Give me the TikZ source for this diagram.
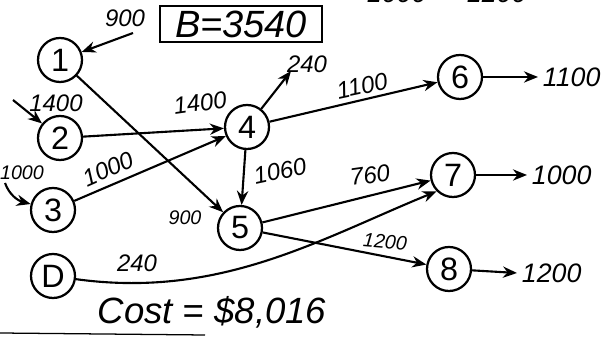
\documentclass[tikz,border=0pt]{standalone}
\usepackage{fontspec}
\setmainfont{Liberation Sans}
\usetikzlibrary{arrows.meta,positioning,calc}

\begin{document}
\begin{tikzpicture}[x=0.025cm, y=0.025cm,
  site/.style={draw, circle, line width=1.6pt, minimum size=1.1cm,
               inner sep=0pt, font=\fontsize{23}{25}\selectfont},
  qty/.style={font=\fontsize{17}{19}\selectfont\itshape},
  small/.style={font=\fontsize{14}{16}\selectfont\itshape},
  outqty/.style={font=\fontsize{19}{21}\selectfont\itshape, anchor=west},
  flow/.style={->, line width=1.5pt},
  >={Stealth[length=10pt,width=8pt]}
]
\useasboundingbox (0,0) rectangle (609,339);
\clip (0,0) rectangle (609,339);

% sites of the network
\node[site] (n1) at (60,279)  {1};
\node[site] (n2) at (60,201)  {2};
\node[site] (n3) at (53,129)  {3};
\node[site] (nD) at (53,63)   {D};
\node[site] (n4) at (247,212) {4};
\node[site] (n5) at (240,111) {5};
\node[site] (n6) at (460,262) {6};
\node[site] (n7) at (453,164) {7};
\node[site] (n8) at (449,70)  {8};

% free ends
\coordinate (s1) at (133,306);
\coordinate (s2) at (13,239);
\coordinate (s3) at (5,156);
\coordinate (t4) at (291,268);
\coordinate (t6) at (538,262);
\coordinate (t7) at (527,164);
\coordinate (t8) at (517,66);

% budget box
\node[draw, line width=1.8pt, minimum width=4.05cm, minimum height=0.8cm,
      font=\fontsize{27}{29}\selectfont\itshape] (budget) at (241,315) {B=3540};

% supplies
\draw[flow] (s1) -- (n1);
\draw[flow] (s2) -- (n2);
\draw[flow] (s3) to[out=-70, in=165] (n3);
\node[qty] (q1) at (125,321) {900};
\node[qty] (q2) at (56,236)  {1400};
\node[small] (q3) at (22,166) {1000};

% arcs
\draw[flow] (n1) -- (n5);
\draw[flow] (n2) -- (n4);
\draw[flow] (n3) -- (n4);
\draw[flow] (n4) -- (t4);
\draw[flow] (n4) -- (n6);
\draw[flow] (n4) -- (n5);
\draw[flow] (n5) -- (n7);
\draw[flow] (n5) -- (n8);
\draw[flow] (nD) .. controls (220,40) and (320,100) .. (n7.south west);

\node[qty, rotate=8]  (a24) at (200,236) {1400};
\node[qty, rotate=24] (a34) at (108,170) {1000};
\node[qty]            (a4)  at (307,275) {240};
\node[qty, rotate=12] (a46) at (362,253) {1100};
\node[qty, rotate=12] (a45) at (280,168) {1060};
\node[small]          (a15) at (185,121) {900};
\node[qty, rotate=8]  (a57) at (370,164) {760};
\node[small, rotate=-5] (a58) at (385,97) {1200};
\node[qty]            (aD7) at (137,76)  {240};

% demands
\draw[flow] (n6) -- (t6);
\draw[flow] (n7) -- (t7);
\draw[flow] (n8) -- (t8);
\node[outqty] (d6) at (t6) {1100};
\node[outqty] (d7) at (t7) {1000};
\node[outqty] (d8) at (t8) {1200};

% cut-off figures at the top edge
\node[outqty] (top1) at (362,346) {1000};
\node[outqty] (top2) at (462,346) {1200};

\node[font=\fontsize{26}{28}\selectfont\itshape] (cost) at (212,27) {Cost = \$8,016};
\draw[line width=0.9pt] (0,6) -- (205,4);
\end{tikzpicture}
\end{document}
